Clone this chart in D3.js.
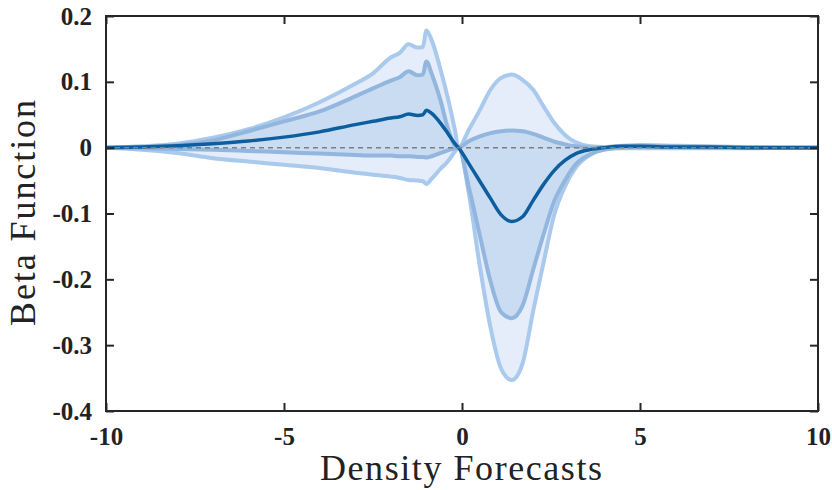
<!DOCTYPE html>
<html>
<head>
<meta charset="utf-8">
<script src="https://cdn.jsdelivr.net/npm/d3@7"></script>
<style>
    body { margin: 0; background: #fff; }
    svg { display: block; }
</style>
</head>
<body>
<svg id="chart" width="832" height="490"></svg>
<script>
// grid of x values the bands were read at
var xs = [-10, -9, -8, -7, -6, -5, -4, -3, -2.5, -2, -1.75, -1.5, -1.25, -1.1, -1.0, -0.85, -0.6, -0.4, -0.2, -0.1,
    0.2, 0.5, 0.8, 1.1, 1.4, 1.7, 2.0, 2.3, 2.6, 2.9, 3.2, 3.6, 4.0, 4.5, 5, 6, 7, 8, 9, 10];

var upperOuter = [0.000, 0.002, 0.006, 0.015, 0.028, 0.046, 0.069, 0.097, 0.113, 0.137, 0.144, 0.157, 0.152, 0.153, 0.178, 0.163, 0.118, 0.076, 0.027, 0.000,
    0.028, 0.057, 0.088, 0.106, 0.111, 0.103, 0.088, 0.062, 0.037, 0.019, 0.008, 0.002, 0.001, 0.003, 0.004, 0.003, 0.002, 0.001, 0.001, 0.001];

var upperInner = [0.000, 0.001, 0.004, 0.011, 0.025, 0.040, 0.055, 0.078, 0.090, 0.102, 0.107, 0.116, 0.110, 0.111, 0.131, 0.112, 0.071, 0.030, 0.003, 0.000,
    0.010, 0.017, 0.022, 0.025, 0.026, 0.025, 0.021, 0.015, 0.009, 0.005, 0.002, 0.000, 0.000, 0.002, 0.003, 0.002, 0.001, 0.001, 0.000, 0.000];

var median = [0.000, 0.001, 0.003, 0.006, 0.010, 0.016, 0.024, 0.035, 0.040, 0.045, 0.047, 0.051, 0.049, 0.050, 0.057, 0.052, 0.037, 0.022, 0.006, 0.000,
    -0.025, -0.051, -0.077, -0.102, -0.112, -0.105, -0.080, -0.055, -0.034, -0.019, -0.009, -0.003, 0.000, 0.002, 0.002, 0.001, 0.001, 0.000, 0.000, 0.000];

var lowerInner = [0.000, -0.001, -0.002, -0.003, -0.005, -0.007, -0.009, -0.011, -0.012, -0.012, -0.013, -0.013, -0.014, -0.014, -0.015, -0.013, -0.008, -0.004, -0.001, 0.000,
    -0.062, -0.133, -0.203, -0.250, -0.259, -0.240, -0.185, -0.130, -0.080, -0.049, -0.025, -0.010, -0.003, 0.000, 0.001, 0.001, 0.000, 0.000, 0.000, 0.000];

var lowerOuter = [0.000, -0.003, -0.008, -0.016, -0.021, -0.026, -0.031, -0.038, -0.041, -0.044, -0.046, -0.049, -0.050, -0.051, -0.055, -0.047, -0.032, -0.021, -0.006, 0.000,
    -0.072, -0.180, -0.273, -0.336, -0.353, -0.328, -0.248, -0.172, -0.100, -0.058, -0.030, -0.011, -0.003, -0.001, -0.001, -0.001, -0.001, -0.001, 0.000, 0.000];

var xTicks = [-10, -5, 0, 5, 10],
    xTickLabels = ['-10', '-5', '0', '5', '10'];
var yTicks = [0.2, 0.1, 0, -0.1, -0.2, -0.3, -0.4],
    yTickLabels = ['0.2', '0.1', '0', '-0.1', '-0.2', '-0.3', '-0.4'];

var LEFT = 106,
    RIGHT = 818,
    TOP = 16,
    BOTTOM = 411,
    TICK = 8,
    AXIS_COLOR = '#262626',
    SERIF = '"Liberation Serif", "Times New Roman", serif';

var svg = d3.select('#chart');

var x = d3.scaleLinear().domain([-10, 10]).range([LEFT, RIGHT]),
    y = d3.scaleLinear().domain([-0.4, 0.2]).range([BOTTOM, TOP]);

var rows = xs.map((v, i) => ({
    x: v,
    uo: upperOuter[i],
    ui: upperInner[i],
    m: median[i],
    li: lowerInner[i],
    lo: lowerOuter[i]
}));

var plot = svg.append('g');

function band(hi, lo) {
    return d3.area()
        .curve(d3.curveMonotoneX)
        .x(d => x(d.x))
        .y0(d => y(d[lo]))
        .y1(d => y(d[hi]));
}

function line(key) {
    return d3.line()
        .curve(d3.curveMonotoneX)
        .x(d => x(d.x))
        .y(d => y(d[key]));
}

// Bands first, then the edges on top
plot.append('path').datum(rows)
    .attr('d', band('uo', 'lo'))
    .attr('fill', '#e4edf9');
plot.append('path').datum(rows)
    .attr('d', band('ui', 'li'))
    .attr('fill', '#c9dcf1');

[['uo', '#a9c9ed'], ['lo', '#a9c9ed'], ['ui', '#93b6df'], ['li', '#93b6df']].forEach(p => {
    plot.append('path').datum(rows)
        .attr('d', line(p[0]))
        .attr('fill', 'none')
        .attr('stroke', p[1])
        .attr('stroke-width', 4)
        .attr('stroke-linejoin', 'round');
});

plot.append('path').datum(rows)
    .attr('d', line('m'))
    .attr('fill', 'none')
    .attr('stroke', '#0c5e9e')
    .attr('stroke-width', 3.5)
    .attr('stroke-linejoin', 'round');

// zero reference
plot.append('line')
    .attr('x1', x(-10)).attr('x2', x(10))
    .attr('y1', y(0)).attr('y2', y(0))
    .attr('stroke', '#7f7f7f')
    .attr('stroke-width', 1.5)
    .attr('stroke-dasharray', '5,4');

// Axes, ticks point inward on all four sides
function styleAxis(g) {
    g.select('.domain').remove();
    g.selectAll('.tick line').attr('stroke', AXIS_COLOR).attr('stroke-width', 2);
    g.selectAll('.tick text')
        .attr('fill', '#222')
        .style('font-family', SERIF)
        .style('font-weight', 'bold')
        .style('font-size', '25px');
}

svg.append('g')
    .attr('transform', `translate(0,${BOTTOM})`)
    .call(d3.axisBottom(x).tickValues(xTicks).tickSize(-TICK).tickPadding(16)
        .tickFormat((d, i) => xTickLabels[i]))
    .call(styleAxis);

svg.append('g')
    .attr('transform', `translate(0,${TOP})`)
    .call(d3.axisTop(x).tickValues(xTicks).tickSize(-TICK).tickFormat(''))
    .call(styleAxis);

svg.append('g')
    .attr('transform', `translate(${LEFT},0)`)
    .call(d3.axisLeft(y).tickValues(yTicks).tickSize(-TICK).tickPadding(14)
        .tickFormat((d, i) => yTickLabels[i]))
    .call(styleAxis);

svg.append('g')
    .attr('transform', `translate(${RIGHT},0)`)
    .call(d3.axisRight(y).tickValues(yTicks).tickSize(-TICK).tickFormat(''))
    .call(styleAxis);

svg.append('rect')
    .attr('x', LEFT).attr('y', TOP)
    .attr('width', RIGHT - LEFT).attr('height', BOTTOM - TOP)
    .attr('fill', 'none')
    .attr('stroke', AXIS_COLOR)
    .attr('stroke-width', 2);

// Titles
svg.append('text')
    .attr('x', 461).attr('y', 480)
    .attr('text-anchor', 'middle')
    .attr('textLength', 282)
    .attr('lengthAdjust', 'spacing')
    .style('font-family', SERIF)
    .style('font-size', '36px')
    .attr('fill', '#222')
    .text('Density Forecasts');

svg.append('text')
    .attr('transform', 'translate(35,213) rotate(-90)')
    .attr('text-anchor', 'middle')
    .attr('textLength', 226)
    .attr('lengthAdjust', 'spacing')
    .style('font-family', SERIF)
    .style('font-size', '36px')
    .attr('fill', '#222')
    .text('Beta Function');
</script>
</body>
</html>
